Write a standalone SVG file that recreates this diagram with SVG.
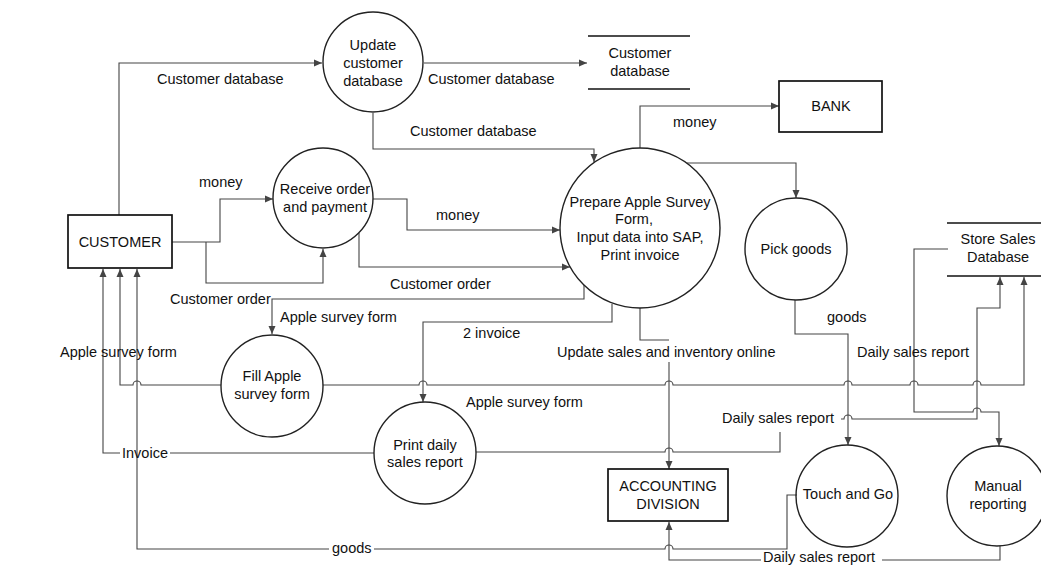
<svg xmlns="http://www.w3.org/2000/svg" width="1041" height="566" viewBox="0 0 1041 566">
  <style>
    text { font-family: "Liberation Sans", Arial, sans-serif; font-size: 14.5px; fill: #111; }
    .c { text-anchor: middle; }
    .proc { fill: #fff; fill-opacity: 0; stroke: #222; stroke-width: 1.4; }
    .ent { fill: none; stroke: #111; stroke-width: 1.7; }
    .store { stroke: #111; stroke-width: 1.7; }
    .flow { fill: none; stroke: #444; stroke-width: 1.1; }
    .arr { marker-end: url(#head); }
  </style>
  <defs>
    <marker id="head" markerUnits="userSpaceOnUse" markerWidth="9" markerHeight="8" refX="8" refY="4" orient="auto">
      <path d="M0,0.5 L8,4 L0,7.5 Z" fill="#444"/>
    </marker>
  </defs>
  <rect width="1041" height="566" fill="#fff"/>

  <!-- data flows -->
  <g id="connectors">
    <path class="flow arr" d="M119,215 V63 H322"/>
    <path class="flow arr" d="M424,63 H587"/>
    <path class="flow arr" d="M373,113 V149 H594 V162"/>
    <path class="flow arr" d="M640,148 V106 H779"/>
    <path class="flow arr" d="M687,163 H796 V198"/>
    <path class="flow arr" d="M172,242 H220 V199 H273"/>
    <path class="flow arr" d="M206,242 V283 H323 V249"/>
    <path class="flow arr" d="M373,199 H407 V230 H560"/>
    <path class="flow arr" d="M359,233 V267 H570"/>
    <path class="flow arr" d="M584,285 V299 H272 V334"/>
    <path class="flow arr" d="M612,304 V322 H423 V402"/>
    <path class="flow" d="M640,308 V340 H669"/>
    <path class="flow arr" d="M669,362 V469"/>
    <path class="flow arr" d="M795,300 V334 H848 V445"/>
    <!-- Apple survey form: Fill Apple survey form to CUSTOMER and to Store Sales Database -->
    <path class="flow arr" d="M221,385 H141 A4,4 0 0 0 133,385 H120 V269"/>
    <path class="flow arr" d="M323,385 H419 A4,4 0 0 1 427,385 H665 A4,4 0 0 1 673,385 H844 A4,4 0 0 1 852,385 H910 A4,4 0 0 1 918,385 H973 A4,4 0 0 1 981,385 H1024 V277"/>
    <!-- Invoice -->
    <path class="flow" d="M374,453 H170"/>
    <path class="flow arr" d="M120,453 H103 V269"/>
    <!-- goods back to CUSTOMER -->
    <path class="flow" d="M797,495 H787 V549 H673 A4,4 0 0 0 665,549 H374"/>
    <path class="flow arr" d="M329,549 H137 V269"/>
    <!-- Daily sales report: Manual reporting to ACCOUNTING DIVISION -->
    <path class="flow" d="M1000,546 V560 H882"/>
    <path class="flow arr" d="M761,560 H669 V522"/>
    <!-- Daily sales report: Print daily sales report to Store Sales Database -->
    <path class="flow" d="M476,452 H665 A4,4 0 0 1 673,452 H780 V432"/>
    <path class="flow arr" d="M841,419 H844 A4,4 0 0 1 852,419 H977 V308 H1000 V277"/>
    <!-- Daily sales report: Store Sales Database to Manual reporting -->
    <path class="flow arr" d="M948,249 H914 V412 H973 A4,4 0 0 1 981,412 H999 V446"/>
  </g>

  <!-- flow labels -->
  <g id="labels">
    <text x="157" y="84">Customer database</text>
    <text x="428" y="84">Customer database</text>
    <text x="410" y="136">Customer database</text>
    <text x="673" y="127">money</text>
    <text x="199" y="187">money</text>
    <text x="436" y="220">money</text>
    <text x="390" y="289">Customer order</text>
    <text x="170" y="304">Customer order</text>
    <text x="280" y="322">Apple survey form</text>
    <text x="463" y="338">2 invoice</text>
    <text x="557" y="357">Update sales and inventory online</text>
    <text x="827" y="322">goods</text>
    <text x="857" y="357">Daily sales report</text>
    <text x="60" y="357">Apple survey form</text>
    <text x="466" y="407">Apple survey form</text>
    <text x="722" y="423">Daily sales report</text>
    <text x="122" y="458">Invoice</text>
    <text x="332" y="553">goods</text>
    <text x="763" y="562">Daily sales report</text>
  </g>

  <g id="update-customer-database">
    <circle class="proc" cx="373" cy="62" r="50"/>
    <text class="c" x="373" y="50">Update</text>
    <text class="c" x="373" y="68">customer</text>
    <text class="c" x="373" y="86">database</text>
  </g>

  <g id="customer-database-store">
    <line class="store" x1="588" y1="36" x2="690" y2="36"/>
    <line class="store" x1="588" y1="89" x2="690" y2="89"/>
    <text class="c" x="640" y="58">Customer</text>
    <text class="c" x="640" y="76">database</text>
  </g>

  <g id="bank">
    <rect class="ent" x="779" y="81" width="103" height="51"/>
    <text class="c" x="831" y="111">BANK</text>
  </g>

  <g id="customer">
    <rect class="ent" x="68" y="215" width="104" height="53"/>
    <text class="c" x="120" y="247">CUSTOMER</text>
  </g>

  <g id="receive-order">
    <circle class="proc" cx="323" cy="198" r="50"/>
    <text class="c" x="325" y="194">Receive order</text>
    <text class="c" x="325" y="212">and payment</text>
  </g>

  <g id="prepare-survey">
    <circle class="proc" cx="640" cy="228" r="80"/>
    <text class="c" x="640" y="207">Prepare Apple Survey</text>
    <text class="c" x="634" y="224">Form,</text>
    <text class="c" x="640" y="242">Input data into SAP,</text>
    <text class="c" x="640" y="260">Print invoice</text>
  </g>

  <g id="pick-goods">
    <circle class="proc" cx="796" cy="249" r="51"/>
    <text class="c" x="796" y="254">Pick goods</text>
  </g>

  <g id="store-sales-database">
    <line class="store" x1="947" y1="223" x2="1041" y2="223"/>
    <line class="store" x1="947" y1="276" x2="1041" y2="276"/>
    <text class="c" x="998" y="244">Store Sales</text>
    <text class="c" x="998" y="262">Database</text>
  </g>

  <g id="fill-survey">
    <circle class="proc" cx="272" cy="386" r="51"/>
    <text class="c" x="272" y="381">Fill Apple</text>
    <text class="c" x="272" y="399">survey form</text>
  </g>

  <g id="print-daily-report">
    <circle class="proc" cx="425" cy="453" r="51"/>
    <text class="c" x="425" y="450">Print daily</text>
    <text class="c" x="425" y="467">sales report</text>
  </g>

  <g id="accounting-division">
    <rect class="ent" x="608" y="469" width="120" height="52"/>
    <text class="c" x="668" y="491">ACCOUNTING</text>
    <text class="c" x="668" y="509">DIVISION</text>
  </g>

  <g id="touch-and-go">
    <circle class="proc" cx="847" cy="496" r="51"/>
    <text class="c" x="848" y="499">Touch and Go</text>
  </g>

  <g id="manual-reporting">
    <circle class="proc" cx="997" cy="496" r="50"/>
    <text class="c" x="998" y="491">Manual</text>
    <text class="c" x="998" y="509">reporting</text>
  </g>
</svg>
